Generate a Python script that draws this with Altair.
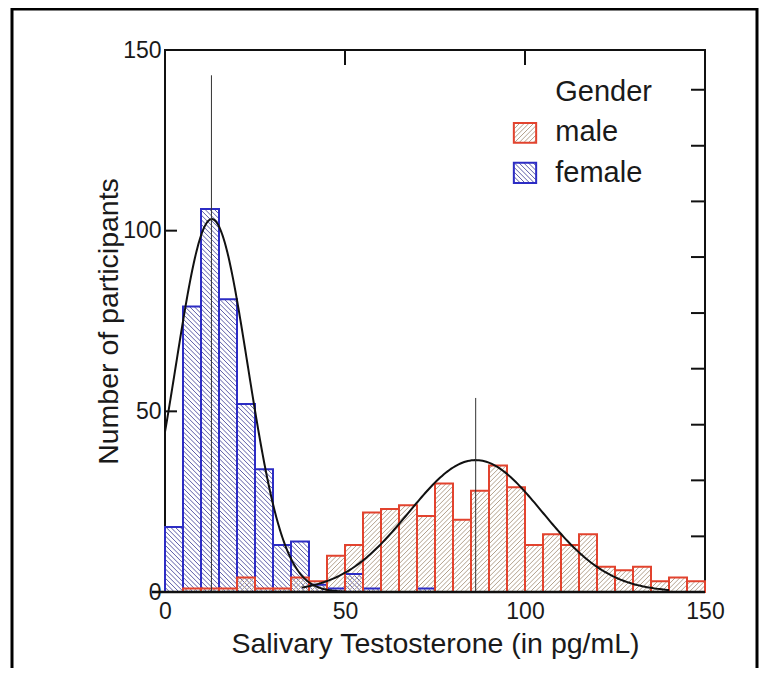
import math
import altair as alt
import numpy as np
import pandas as pd

# ---------------- data ----------------
BIN_WIDTH = 5
BIN_START = list(range(0, 150, 5))
FEMALE_COUNTS = [18, 79, 106, 81, 52, 34, 13, 14, 2, 1, 5, 1, 0, 0, 1,
                 0, 0, 0, 0, 0, 0, 0, 0, 0, 0, 0, 0, 0, 0, 0]
MALE_COUNTS = [0, 1, 1, 1, 4, 1, 1, 4, 3, 10, 13, 22, 23, 24, 21, 30, 20, 28, 35, 29,
               13, 16, 13, 16, 7, 6, 7, 3, 4, 3]

# fitted normal curves (mean, sd, peak height, drawn range)
FEMALE_FIT = {"mean": 13.0, "sd": 10.0, "peak": 103.2, "from": 0, "to": 50}
MALE_FIT = {"mean": 86.3, "sd": 18.5, "peak": 36.5, "from": 38, "to": 140}
# vertical mean lines: x position and top
MEAN_LINES_X = [12.9, 86.3]
MEAN_LINES_TOP = [143, 53.7]

AXIS_TICKS = [0, 50, 100, 150]
RIGHT_TICKS = [15.4, 30.9, 46.3, 61.8, 77.2, 92.7, 108.1, 123.5, 139.0]
GENDERS = ["male", "female"]
OUTLINE_COLORS = ["#e2432e", "#2c2cc4"]
HATCH_COLORS = ["#b3a18c", "#5d5da8"]

# legend layout (data units)
LEGEND_SQ_X = [96.9, 103.1]
LEGEND_SQ_Y = {"male": [124.3, 129.8], "female": [113.2, 118.8]}
LEGEND_TEXT_X = 108.4
LEGEND_TEXT_Y = {"male": 127.2, "female": 116.0}
LEGEND_TITLE_Y = 138.4

X_TITLE = "Salivary Testosterone (in pg/mL)"
Y_TITLE = "Number of participants"

HATCH_STEP = 1.3
W, H = 540, 542
FONT = "Liberation Sans"


def hatch(rects, direction, step=HATCH_STEP):
    segs = []
    for (a, b, y0, y1) in rects:
        if y1 - y0 <= 0:
            continue
        if direction > 0:  # "/"  y = x - c
            kmin = math.floor((a - y1) / step)
            kmax = math.ceil((b - y0) / step)
            for k in range(kmin, kmax + 1):
                c = k * step
                x0 = max(a, c + y0)
                x1 = min(b, c + y1)
                if x1 > x0:
                    segs.append((x0, x0 - c, x1, x1 - c))
        else:  # "\"  y = c - x
            kmin = math.floor((a + y0) / step)
            kmax = math.ceil((b + y1) / step)
            for k in range(kmin, kmax + 1):
                c = k * step
                x0 = max(a, c - y1)
                x1 = min(b, c - y0)
                if x1 > x0:
                    segs.append((x0, c - x0, x1, c - x1))
    return segs


bars = pd.DataFrame({
    "start": BIN_START * 2,
    "end": [s + BIN_WIDTH for s in BIN_START] * 2,
    "count": FEMALE_COUNTS + MALE_COUNTS,
    "gender": ["female"] * len(BIN_START) + ["male"] * len(BIN_START),
})

seg_rows = []
for g, direction in (("female", -1), ("male", 1)):
    sub = bars[bars.gender == g]
    rects = [(r.start, r.end, 0.0, float(r["count"])) for _, r in sub.iterrows()]
    rects.append((LEGEND_SQ_X[0], LEGEND_SQ_X[1], LEGEND_SQ_Y[g][0], LEGEND_SQ_Y[g][1]))
    for (x0, y0, x1, y1) in hatch(rects, direction):
        seg_rows.append({"x": x0, "y": y0, "x2": x1, "y2": y1, "gender": g})
segs = pd.DataFrame(seg_rows)

legend_sq = pd.DataFrame({
    "gender": GENDERS,
    "x": [LEGEND_SQ_X[0]] * 2, "x2": [LEGEND_SQ_X[1]] * 2,
    "y": [LEGEND_SQ_Y[g][0] for g in GENDERS], "y2": [LEGEND_SQ_Y[g][1] for g in GENDERS],
})
legend_txt = pd.DataFrame({
    "label": GENDERS + ["Gender"],
    "x": [LEGEND_TEXT_X] * 3,
    "y": [LEGEND_TEXT_Y[g] for g in GENDERS] + [LEGEND_TITLE_Y],
})


def curve(fit):
    xs = np.linspace(fit["from"], fit["to"], 200)
    ys = fit["peak"] * np.exp(-((xs - fit["mean"]) ** 2) / (2 * fit["sd"] ** 2))
    return xs, ys


cf = curve(FEMALE_FIT)
cm = curve(MALE_FIT)
curves = pd.DataFrame({
    "x": np.concatenate([cf[0], cm[0]]),
    "y": np.concatenate([cf[1], cm[1]]),
    "gender": ["female"] * len(cf[0]) + ["male"] * len(cm[0]),
})
mean_lines = pd.DataFrame({"x": MEAN_LINES_X, "top": MEAN_LINES_TOP, "bottom": [0, 0]})

xs = alt.Scale(domain=[0, 150], nice=False, zero=False)
ys = alt.Scale(domain=[0, 150], nice=False)
XAX = alt.Axis(values=AXIS_TICKS, ticks=False, domain=False, grid=False, labelFlush=False,
               labelPadding=8, titlePadding=6, format="d")
YAX = alt.Axis(values=AXIS_TICKS, ticks=False, domain=False, grid=False, labelFlush=False,
               labelPadding=4, titlePadding=-1, format="d")


def X(field):
    return alt.X(field, scale=xs, axis=XAX, title=X_TITLE)


def Y(field):
    return alt.Y(field, scale=ys, axis=YAX, title=Y_TITLE)


hatch_layer = alt.Chart(segs).mark_rule(strokeWidth=1).encode(
    x=X("x:Q"), y=Y("y:Q"), x2="x2:Q", y2="y2:Q",
    stroke=alt.Stroke("gender:N", scale=alt.Scale(domain=GENDERS, range=HATCH_COLORS),
                      legend=None),
)

bar_layer = alt.Chart(bars).mark_rect(fillOpacity=0, strokeWidth=2).encode(
    x=X("start:Q"), x2="end:Q",
    y=Y("count:Q"), y2=alt.datum(0),
    stroke=alt.Stroke("gender:N", scale=alt.Scale(domain=GENDERS, range=OUTLINE_COLORS),
                      legend=None),
)

curve_layer = alt.Chart(curves).mark_line(color="#111111", strokeWidth=2).encode(
    x=X("x:Q"), y=Y("y:Q"), detail="gender:N",
)

mean_layer = alt.Chart(mean_lines).mark_rule(color="#333333", strokeWidth=1).encode(
    x=X("x:Q"), y=Y("bottom:Q"), y2="top:Q",
)

one = pd.DataFrame({"k": [0]})
baseline = alt.Chart(one).mark_rule(color="#111111", strokeWidth=2.5).encode(
    x=alt.value(-13), x2=alt.value(W), y=alt.value(H)
)
frame = alt.Chart(one).mark_rect(fillOpacity=0, stroke="#000000", strokeWidth=3).encode(
    x=alt.value(-153), x2=alt.value(592), y=alt.value(-41), y2=alt.value(720)
)

left_ticks = alt.Chart(pd.DataFrame({"v": AXIS_TICKS[1:]})).mark_rule(
    color="#111111", strokeWidth=2).encode(
    y=Y("v:Q"), x=alt.value(0), x2=alt.value(12))
top_ticks = alt.Chart(pd.DataFrame({"v": AXIS_TICKS[1:3]})).mark_rule(
    color="#111111", strokeWidth=2).encode(
    x=X("v:Q"), y=alt.value(0), y2=alt.value(15))
right_ticks = alt.Chart(pd.DataFrame({"v": RIGHT_TICKS})).mark_rule(
    color="#111111", strokeWidth=2).encode(
    y=Y("v:Q"), x=alt.value(W - 14), x2=alt.value(W))

legend_box = alt.Chart(legend_sq).mark_rect(fillOpacity=0, strokeWidth=2).encode(
    x=X("x:Q"), x2="x2:Q",
    y=Y("y:Q"), y2="y2:Q",
    stroke=alt.Stroke("gender:N", scale=alt.Scale(domain=GENDERS, range=OUTLINE_COLORS),
                      legend=None),
)
legend_text = alt.Chart(legend_txt).mark_text(
    align="left", baseline="middle", fontSize=29, font=FONT, color="#1a1a1a").encode(
    x=X("x:Q"), y=Y("y:Q"), text="label:N",
)

chart = alt.layer(
    hatch_layer, bar_layer, curve_layer, mean_layer, baseline,
    left_ticks, top_ticks, right_ticks, legend_box, legend_text, frame,
).resolve_scale(
    stroke="independent"
).properties(
    width=W, height=H,
    autosize=alt.AutoSizeParams(type="none"),
    padding={"left": 157, "top": 42, "right": 62, "bottom": 76},
    background="white",
).configure_view(
    stroke="#111111", strokeWidth=2
).configure_axis(
    labelFont=FONT, titleFont=FONT, labelFontSize=23, titleFontSize=28.5,
    labelColor="#1a1a1a", titleColor="#1a1a1a", titleFontWeight="normal",
)

chart.save("out.html", embed_options={"renderer": "svg", "actions": False})
